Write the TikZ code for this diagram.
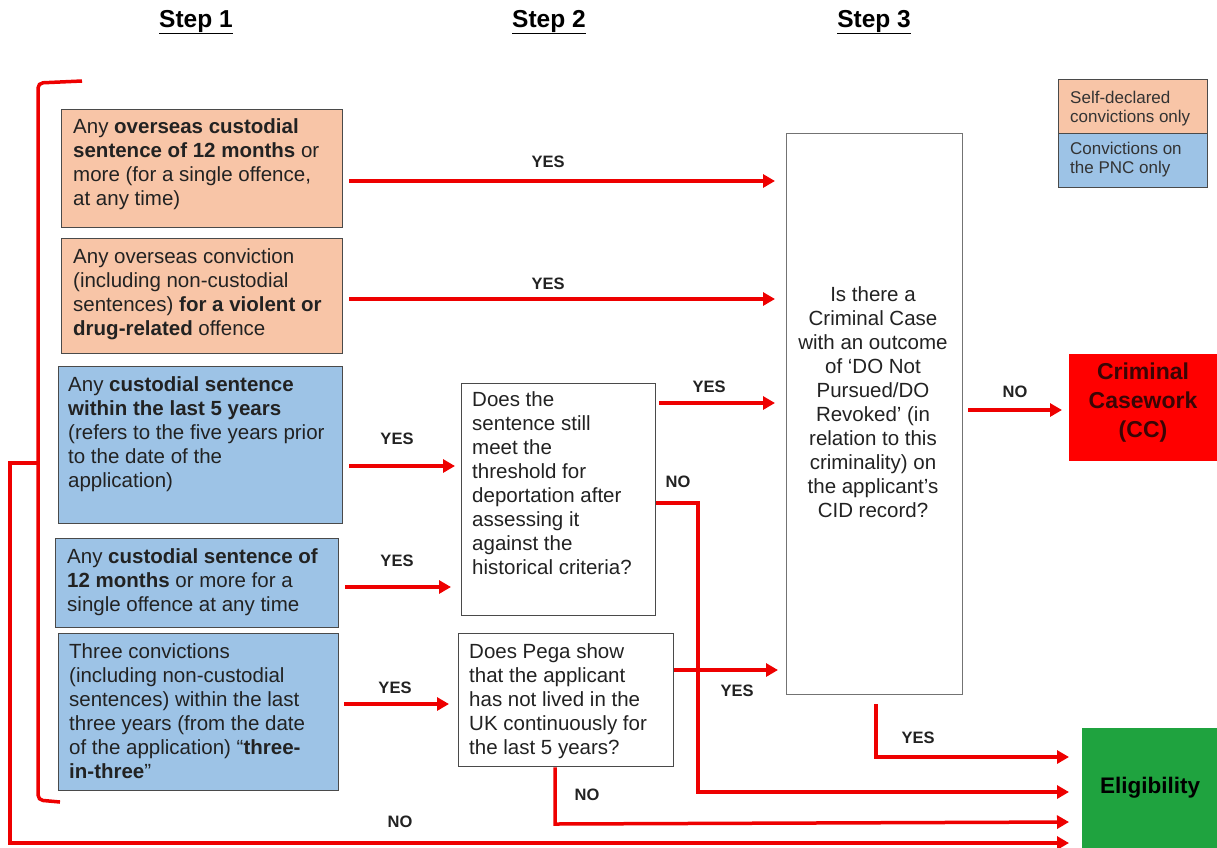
\documentclass[tikz,border=0pt]{standalone}
\usepackage{fontspec}
\setmainfont{Liberation Sans}
\usetikzlibrary{arrows.meta}
\definecolor{peach}{HTML}{F8C5A7}
\definecolor{lblue}{HTML}{9DC3E6}
\definecolor{arrred}{HTML}{EE0000}
\definecolor{ccred}{HTML}{FF0000}
\definecolor{elgreen}{HTML}{1FA33F}
\definecolor{bord}{HTML}{4A4A4A}
\definecolor{txtc}{HTML}{222222}
\definecolor{cctxt}{HTML}{3A0505}
\newcommand{\bodyfont}{\fontsize{20.5}{24}\selectfont}
\begin{document}
\begin{tikzpicture}[x=1pt,y=-1pt,
  box/.style={draw=bord,line width=1.3pt,anchor=north west,inner sep=0pt},
  btxt/.style={anchor=north west,align=left,inner sep=0pt,font=\bodyfont,text=txtc},
  lab/.style={font=\fontsize{16.5}{18}\selectfont\bfseries,text=txtc,inner sep=0pt},
  hdr/.style={font=\fontsize{24.5}{28}\selectfont\bfseries,text=black,inner sep=0pt},
  arr/.style={draw=arrred,line width=3.5pt,-{Triangle[length=12pt,width=13pt]}},
  ]
\useasboundingbox (0,0) rectangle (1217,847);
\fill[white] (0,0) rectangle (1217,847);

% headers
\node[hdr] (h1) at (196,22) {\underline{Step 1}};
\node[hdr] (h2) at (549,22) {\underline{Step 2}};
\node[hdr] (h3) at (874,22) {\underline{Step 3}};

% legend
\node[box,fill=peach,minimum width=149pt,minimum height=54pt] (lg1) at (1058,79) {};
\node[box,fill=lblue,minimum width=149pt,minimum height=54pt] (lg2) at (1058,133) {};
\node[btxt,font=\fontsize{17}{18.5}\selectfont,text=black!80] (lg1t) at (1070,91) {Self-declared\\convictions only};
\node[btxt,font=\fontsize{17}{18.5}\selectfont,text=black!80] (lg2t) at (1070,142) {Convictions on\\the PNC only};

% step 1 boxes
\node[box,fill=peach,minimum width=281pt,minimum height=118pt] (c1) at (61,109) {};
\node[btxt] (c1t) at (73,118) {Any \textbf{overseas custodial}\\\textbf{sentence of 12 months} or\\more (for a single offence,\\at any time)};
\node[box,fill=peach,minimum width=281pt,minimum height=115pt] (c2) at (61,238) {};
\node[btxt] (c2t) at (73,248) {Any overseas conviction\\(including non-custodial\\sentences) \textbf{for a violent or}\\\textbf{drug-related} offence};
\node[box,fill=lblue,minimum width=284pt,minimum height=157pt] (c3) at (58,366) {};
\node[btxt] (c3t) at (68,376) {Any \textbf{custodial sentence}\\\textbf{within the last 5 years}\\(refers to the five years prior\\to the date of the\\application)};
\node[box,fill=lblue,minimum width=283pt,minimum height=89pt] (c4) at (55,538) {};
\node[btxt] (c4t) at (67,548) {Any \textbf{custodial sentence of}\\\textbf{12 months} or more for a\\single offence at any time};
\node[box,fill=lblue,minimum width=280pt,minimum height=157pt] (c5) at (58,633) {};
\node[btxt] (c5t) at (69,643) {Three convictions\\(including non-custodial\\sentences) within the last\\three years (from the date\\of the application) “\textbf{three-}\\\textbf{in-three}”};

% step 2 boxes
\node[box,fill=white,minimum width=194pt,minimum height=232pt] (qa) at (461,383) {};
\node[btxt] (qat) at (472,391) {Does the\\sentence still\\meet the\\threshold for\\deportation after\\assessing it\\against the\\historical criteria?};
\node[box,fill=white,minimum width=215pt,minimum height=133pt] (qb) at (458,633) {};
\node[btxt] (qbt) at (469,643) {Does Pega show\\that the applicant\\has not lived in the\\UK continuously for\\the last 5 years?};

% step 3 box
\node[box,fill=white,draw=black!55,minimum width=176pt,minimum height=561pt] (s3) at (786,133) {};
\node[btxt,anchor=north,align=center] (s3t) at (873,286) {Is there a\\Criminal Case\\with an outcome\\of ‘DO Not\\Pursued/DO\\Revoked’ (in\\relation to this\\criminality) on\\the applicant{\char"0027}s\\CID record?};

% outcomes
\node[box,draw=none,fill=ccred,minimum width=160pt,minimum height=107pt] (cc) at (1068,353) {};
\node[align=center,inner sep=0pt,font=\fontsize{23}{29}\selectfont\bfseries,text=cctxt] (cct) at (1143,403) {Criminal\\Casework\\(CC)};
\node[box,draw=none,fill=elgreen,minimum width=150pt,minimum height=125pt] (el) at (1081,727) {};
\node[inner sep=0pt,font=\fontsize{22.5}{26}\selectfont\bfseries,text=black] (elt) at (1150,788) {Eligibility};

% bracket
\draw[arrred,line width=3.5pt,rounded corners=5pt] (82,81) -- (38,83) -- (38,800) -- (60,802);

% connectors
\draw[arr] ([xshift=6pt]c1.east |- 0,181) -- ([xshift=-11pt]s3.west |- 0,181);
\draw[arr] ([xshift=6pt]c2.east |- 0,299) -- ([xshift=-11pt]s3.west |- 0,299);
\draw[arr] ([xshift=6pt]c3.east |- 0,466) -- ([xshift=-6pt]qa.west |- 0,466);
\draw[arr] ([xshift=6pt]c4.east |- 0,587) -- ([xshift=-10pt]qa.west |- 0,587);
\draw[arr] ([xshift=5pt]c5.east |- 0,704) -- ([xshift=-9pt]qb.west |- 0,704);
\draw[arr] ([xshift=3pt]qa.east |- 0,403) -- ([xshift=-11pt]s3.west |- 0,403);
\draw[arr] (qa.east |- 0,503) -- (698,503) -- (698,792) -- ([xshift=-12pt]el.west |- 0,792);
\draw[arr] (qb.east |- 0,670) -- ([xshift=-8pt]s3.west |- 0,670);
\draw[arr] ([xshift=5pt]s3.east |- 0,410) -- ([xshift=-6pt]cc.west |- 0,410);
\draw[arr] ([yshift=-9pt]s3.south -| 876,0) -- (876,757) -- ([xshift=-12pt]el.west |- 0,757);
\draw[arr] (qb.south -| 555,0) -- (555,824) -- ([xshift=-12pt]el.west |- 0,822);
\draw[arr] (38,463) -- (10,463) -- (10,843) -- ([xshift=-12pt]el.west |- 0,843);

% labels
\node[lab] (y1) at (548,162) {YES};
\node[lab] (y2) at (548,284) {YES};
\node[lab] (y3) at (397,439) {YES};
\node[lab] (y4) at (397,561) {YES};
\node[lab] (y5) at (395,688) {YES};
\node[lab] (y6) at (709,387) {YES};
\node[lab] (n1) at (678,482) {NO};
\node[lab] (y7) at (737,691) {YES};
\node[lab] (n2) at (1015,392) {NO};
\node[lab] (y8) at (918,738) {YES};
\node[lab] (n3) at (587,795) {NO};
\node[lab] (n4) at (400,822) {NO};
\end{tikzpicture}
\end{document}
